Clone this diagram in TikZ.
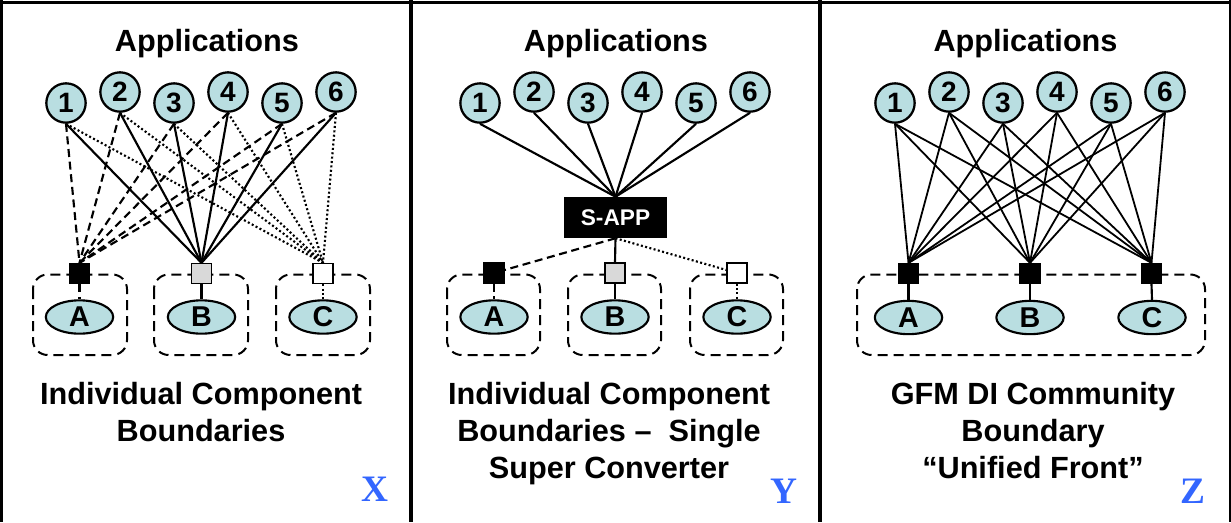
\documentclass[tikz,border=0pt]{standalone}
\usepackage{fontspec}
\setmainfont{Liberation Sans}
\newfontfamily\serifbold{Liberation Serif}
\usetikzlibrary{shapes.geometric}

\definecolor{appfill}{RGB}{185,222,225}
\definecolor{graysq}{RGB}{217,217,217}
\definecolor{lblblue}{RGB}{51,102,255}

\begin{document}
\begin{tikzpicture}[x=0.75pt,y=-0.75pt,
 app/.style={circle,draw,line width=1.7pt,fill=appfill,minimum size=29.5pt,inner sep=0pt,font=\fontsize{21}{21}\selectfont\bfseries},
 comp/.style={ellipse,draw,line width=1.6pt,fill=appfill,minimum width=50.5pt,minimum height=25pt,inner sep=0pt,font=\fontsize{21.5}{21.5}\selectfont\bfseries},
 port/.style={rectangle,draw,line width=1pt,minimum size=15pt,inner sep=0pt},
 bound/.style={draw,line width=1.5pt,dash pattern=on 7.5pt off 4.5pt,rounded corners=11pt},
 heading/.style={font=\fontsize{23}{23}\selectfont\bfseries,anchor=base,inner sep=0pt},
 caption/.style={font=\fontsize{23}{27.75}\selectfont\bfseries,align=center,anchor=north,inner sep=0pt},
 tag/.style={font=\fontsize{28}{28}\selectfont\serifbold\bfseries,text=lblblue,anchor=base,inner sep=0pt},
 solidl/.style={line width=1.6pt},
 thinl/.style={line width=1.35pt},
 dashl/.style={line width=1.6pt,dash pattern=on 6pt off 3.5pt},
 dotl/.style={line width=1.6pt,dash pattern=on 1.5pt off 1.8pt},
 frame/.style={draw=black}
]
\useasboundingbox (0,0) rectangle (1231,522);

% frame and dividers
\draw[frame,line width=2pt] (0,2.5) -- (1231,2.5);
\draw[frame,line width=2.2pt] (1.5,0) -- (1.5,522);
\draw[frame,line width=1.5pt] (1229.5,0) -- (1229.5,522);
\draw[frame,line width=3pt] (410.5,0) -- (410.5,522);
\draw[frame,line width=3pt] (819.5,0) -- (819.5,522);

% ================= Panel X =================
\node[heading] (xh) at (207,51) {Applications};
\node[app] (xa1) at (66,103) {1};
\node[app] (xa2) at (120,92) {2};
\node[app] (xa3) at (174,103) {3};
\node[app] (xa4) at (228,92) {4};
\node[app] (xa5) at (282,103) {5};
\node[app] (xa6) at (336,92) {6};
\draw[bound] (33,274.5) rectangle (127,355);
\draw[bound] (154,274.5) rectangle (248,355);
\draw[bound] (276,274.5) rectangle (370,355);
\node[port,fill=black] (xpA) at (79.5,273.5) {};
\node[port,fill=graysq] (xpB) at (201.5,273.5) {};
\node[port,fill=white] (xpC) at (323,273.5) {};
\node[comp] (xcA) at (79.5,317) {A};
\node[comp] (xcB) at (201.5,317) {B};
\node[comp] (xcC) at (323,317) {C};
\foreach \i in {1,...,6}{
  \draw[dashl] (xa\i.south) -- (xpA.north);
  \draw[solidl] (xa\i.south) -- (xpB.north);
  \draw[dotl] (xa\i.south) -- (xpC.north);
}
\draw[dashl] (xpA.south) -- (xcA.north);
\draw[solidl] (xpB.south) -- (xcB.north);
\draw[dotl] (xpC.south) -- (xcC.north);
\node[caption] (xcap) at (201,382) {Individual Component\\Boundaries};
\node[tag] (xt) at (374.5,501) {X};

% ================= Panel Y =================
\node[heading] (yh) at (616,51) {Applications};
\node[app] (ya1) at (480,103) {1};
\node[app] (ya2) at (534,92) {2};
\node[app] (ya3) at (588,103) {3};
\node[app] (ya4) at (642,92) {4};
\node[app] (ya5) at (696,103) {5};
\node[app] (ya6) at (750,92) {6};
\node[fill=black,text=white,minimum width=77pt,minimum height=30.75pt,inner sep=0pt,font=\fontsize{17}{17}\selectfont\bfseries] (sapp) at (615.5,217.5) {S-APP};
\draw[bound] (447,274.5) rectangle (540,355);
\draw[bound] (568,274.5) rectangle (661,355);
\draw[bound] (690,274.5) rectangle (783,355);
\node[port,fill=black] (ypA) at (494,273) {};
\node[port,fill=graysq] (ypB) at (615,273) {};
\node[port,fill=white] (ypC) at (737,273) {};
\node[comp] (ycA) at (494,317) {A};
\node[comp] (ycB) at (615,317) {B};
\node[comp] (ycC) at (737,317) {C};
\foreach \i in {1,...,6}{
  \draw[solidl] (ya\i.south) -- (sapp.north);
}
\draw[dashl] (sapp.south) -- (ypA);
\draw[solidl] (sapp.south) -- (ypB.north);
\draw[dotl] (sapp.south) -- (ypC);
\draw[dashl] (ypA.south) -- (ycA.north);
\draw[solidl] (ypB.south) -- (ycB.north);
\draw[dotl] (ypC.south) -- (ycC.north);
\node[caption] (ycap) at (609,382) {Individual Component\\Boundaries –~ Single\\Super Converter};
\node[tag] (yt) at (784,503) {Y};

% ================= Panel Z =================
\node[heading] (zh) at (1025.5,51) {Applications};
\node[app] (za1) at (895,103) {1};
\node[app] (za2) at (949,92) {2};
\node[app] (za3) at (1003,103) {3};
\node[app] (za4) at (1057,92) {4};
\node[app] (za5) at (1111,103) {5};
\node[app] (za6) at (1165,92) {6};
\draw[bound] (857,274.5) rectangle (1205,355);
\node[port,fill=black] (zpA) at (908.5,273.5) {};
\node[port,fill=black] (zpB) at (1030,273.5) {};
\node[port,fill=black] (zpC) at (1151.5,273.5) {};
\node[comp] (zcA) at (908.5,317.5) {A};
\node[comp] (zcB) at (1030,317.5) {B};
\node[comp] (zcC) at (1152,317.5) {C};
\foreach \i in {1,...,6}{
  \draw[thinl] (za\i.south) -- (zpA.north);
  \draw[thinl] (za\i.south) -- (zpB.north);
  \draw[thinl] (za\i.south) -- (zpC.north);
}
\draw[solidl] (zpA.south) -- (zcA.north);
\draw[solidl] (zpB.south) -- (zcB.north);
\draw[solidl] (zpC.south) -- (zcC.north);
\node[caption] (zcap) at (1033,382) {GFM DI Community\\Boundary\\“Unified Front”};
\node[tag] (zt) at (1193,503) {Z};
\end{tikzpicture}
\end{document}
